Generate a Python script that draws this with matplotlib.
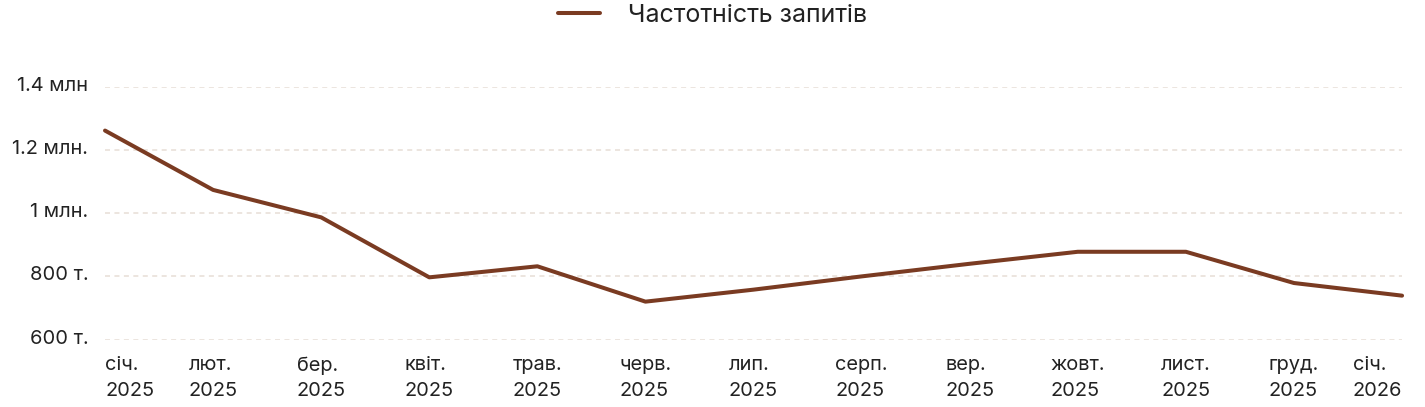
import matplotlib
matplotlib.use('Agg')
import matplotlib.pyplot as plt
from matplotlib.transforms import ScaledTranslation

# Data
months = ['січ.\n2025', 'лют.\n2025', 'бер.\n2025', 'квіт.\n2025', 'трав.\n2025',
          'черв.\n2025', 'лип.\n2025', 'серп.\n2025', 'вер.\n2025', 'жовт.\n2025',
          'лист.\n2025', 'груд.\n2025', 'січ.\n2026']
requests = [1262000, 1074000, 987000, 797000, 832000, 720000, 758000,
            800000, 840000, 878000, 878000, 779000, 739000]
y_ticks = [600000, 800000, 1000000, 1200000, 1400000]
y_labels = ['600 т.', '800 т.', '1 млн.', '1.2 млн.', '1.4 млн']

plt.rcParams['font.family'] = ['Inter', 'DejaVu Sans']
plt.rcParams['lines.scale_dashes'] = False

fig = plt.figure(figsize=(14.25, 4.07), dpi=100)
ax = fig.add_axes([0.0737, 0.1658, 0.9102, 0.6204])

x = list(range(len(months)))
ax.plot(x, requests, color='#7a3b22', linewidth=2.9,
        solid_capstyle='round', solid_joinstyle='round',
        label='Частотність запитів', clip_on=False)

ax.set_xlim(0, len(months) - 1)
ax.set_ylim(y_ticks[0], y_ticks[-1])
ax.set_yticks(y_ticks)
ax.set_yticklabels(y_labels)
ax.set_xticks(x)
ax.set_xticklabels(months, linespacing=1.55)

ax.yaxis.grid(True, color='#e9e0d9', linestyle=(0, (3.6, 3.2)), linewidth=1.2)
ax.set_axisbelow(True)
for s in ax.spines.values():
    s.set_visible(False)

ax.tick_params(axis='both', length=0, labelsize=14.4, labelcolor='#222222')
ax.tick_params(axis='y', pad=12)
ax.tick_params(axis='x', pad=12)

# y labels sit a few pixels above their grid lines in the reference
up = ScaledTranslation(0, 3 / 100, fig.dpi_scale_trans)
for lbl in ax.get_yticklabels():
    lbl.set_transform(lbl.get_transform() + up)

labels = ax.get_xticklabels()
for lbl in labels:
    lbl.set_multialignment('left')
labels[0].set_ha('left')
labels[-1].set_ha('right')

fig.legend(loc='upper center', bbox_to_anchor=(0.5, 1.045), frameon=False,
           fontsize=18, handlelength=1.7, handletextpad=1.1,
           labelcolor='#222222')

fig.savefig('out.png', dpi=100)
